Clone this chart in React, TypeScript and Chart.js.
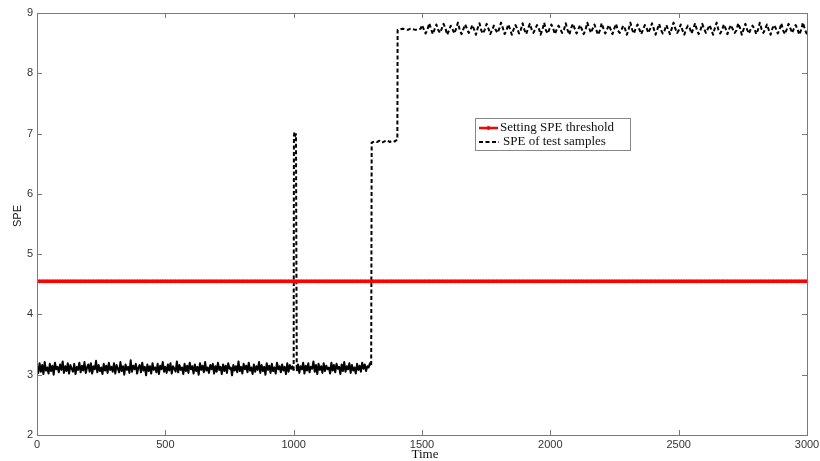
import React, { useEffect, useRef } from "react";
import { Chart, registerables } from "chart.js";

Chart.register(...registerables);

// ---- data ----
const xTicks = [0, 500, 1000, 1500, 2000, 2500, 3000];
const yTicks = [2, 3, 4, 5, 6, 7, 8, 9];

const SPE_THRESHOLD = 4.55;
const thresholdStart = 0;
const thresholdStep = 10;
const thresholdCount = 301;

// normal operation, t = 0..1000 every 5 samples
const normalStart = 0;
const normalStep = 5;
const normalValues = [
  3.14, 3.03, 3.19, 3.05, 3.16, 3.01, 3.21, 3.07, 3.12, 3.02, 3.18, 3.06, 3.15, 3.0, 3.2, 3.09, 3.13, 3.04, 3.17, 3.08,
  3.22, 3.03, 3.14, 3.06, 3.19, 3.02, 3.16, 3.1, 3.05, 3.18, 3.01, 3.13, 3.08, 3.2, 3.04, 3.15, 3.07, 3.21, 3.03, 3.12,
  3.17, 3.05, 3.19, 3.02, 3.14, 3.09, 3.23, 3.04, 3.16, 3.06, 3.12, 3.01, 3.18, 3.07, 3.15, 3.03, 3.2, 3.08, 3.13, 3.05,
  3.19, 3.02, 3.16, 3.1, 3.04, 3.21, 3.06, 3.14, 3.0, 3.17, 3.08, 3.13, 3.03, 3.24, 3.05, 3.15, 3.09, 3.18, 3.02, 3.12,
  3.16, 3.04, 3.2, 3.07, 3.13, 2.99, 3.17, 3.06, 3.14, 3.02, 3.19, 3.08, 3.12, 3.04, 3.18, 3.01, 3.15, 3.09, 3.21, 3.05,
  3.13, 3.03, 3.17, 3.07, 3.19, 3.02, 3.14, 3.1, 3.05, 3.22, 3.04, 3.16, 3.08, 3.12, 3.01, 3.18, 3.06, 3.15, 3.03, 3.2,
  3.09, 3.14, 3.02, 3.17, 3.06, 3.13, 3.0, 3.19, 3.08, 3.15, 3.04, 3.21, 3.07, 3.12, 3.03, 3.16, 3.09, 3.18, 3.02, 3.14,
  3.05, 3.2, 3.08, 3.13, 3.01, 3.17, 3.06, 3.15, 3.03, 3.19, 3.1, 3.12, 2.99, 3.16, 3.07, 3.14, 3.04, 3.22, 3.06, 3.13,
  3.02, 3.18, 3.09, 3.15, 3.04, 3.2, 3.07, 3.12, 3.01, 3.17, 3.05, 3.14, 3.08, 3.21, 3.03, 3.16, 3.06, 3.13, 3.0, 3.19,
  3.08, 3.15, 3.03, 3.18, 3.06, 3.12, 3.02, 3.2, 3.09, 3.14, 3.04, 3.17, 3.07, 3.13, 3.01, 3.19, 3.05, 3.16, 3.1, 3.14,
  3.07,
];

// short spike around t = 1000
const spikeTimes = [1001, 1003, 1006, 1009];
const spikeValues = [6.97, 7.02, 6.96, 6.99];

// back to normal, t = 1012..1302 every 5 samples
const normal2Start = 1012;
const normal2Step = 5;
const normal2Values = [
  3.06, 3.17, 3.03, 3.14, 3.09, 3.2, 3.02, 3.15, 3.07, 3.19,
  3.04, 3.13, 3.1, 3.22, 3.05, 3.16, 3.01, 3.18, 3.08, 3.14,
  3.03, 3.19, 3.06, 3.15, 3.09, 3.12, 3.02, 3.2, 3.07, 3.16,
  3.04, 3.18, 3.1, 3.13, 3.01, 3.17, 3.06, 3.21, 3.05, 3.14,
  3.09, 3.19, 3.03, 3.16, 3.07, 3.12, 3.02, 3.18, 3.08, 3.15,
  3.05, 3.2, 3.1, 3.17, 3.06, 3.14, 3.12, 3.19, 3.16,
];

// first fault level, t = 1304..1404
const fault1Start = 1304;
const fault1Step = 10;
const fault1Values = [6.85, 6.87, 6.86, 6.88, 6.85, 6.87, 6.89, 6.86, 6.88, 6.87, 6.9];

// second fault level, t = 1405..1495
const fault2Start = 1405;
const fault2Step = 10;
const fault2Values = [8.72, 8.73, 8.74, 8.73, 8.72, 8.74, 8.73, 8.72, 8.73, 8.74];

// oscillating fault, t = 1500.. every 7 samples
const oscStart = 1500;
const oscStep = 7;
const oscValues = [
  8.8, 8.73, 8.66, 8.72, 8.83, 8.74, 8.65, 8.73, 8.81, 8.72, 8.67, 8.74, 8.82, 8.75, 8.64, 8.71,
  8.79, 8.73, 8.66, 8.74, 8.84, 8.72, 8.65, 8.73, 8.81, 8.74, 8.67, 8.72, 8.8, 8.73, 8.64, 8.75,
  8.83, 8.71, 8.66, 8.73, 8.82, 8.74, 8.65, 8.72, 8.79, 8.72, 8.67, 8.74, 8.84, 8.75, 8.65, 8.71,
  8.81, 8.73, 8.64, 8.73, 8.8, 8.74, 8.66, 8.72, 8.83, 8.72, 8.65, 8.74, 8.82, 8.73, 8.67, 8.73,
  8.8, 8.75, 8.64, 8.72, 8.84, 8.71, 8.66, 8.74, 8.81, 8.74, 8.65, 8.73, 8.79, 8.73, 8.67, 8.72,
  8.83, 8.72, 8.64, 8.75, 8.82, 8.74, 8.66, 8.73, 8.8, 8.73, 8.65, 8.72, 8.84, 8.75, 8.67, 8.74,
  8.81, 8.72, 8.64, 8.71, 8.83, 8.74, 8.66, 8.73, 8.8, 8.73, 8.65, 8.74, 8.82, 8.71, 8.67, 8.72,
  8.79, 8.74, 8.64, 8.73, 8.84, 8.72, 8.66, 8.75, 8.81, 8.73, 8.65, 8.72, 8.8, 8.75, 8.67, 8.74,
  8.83, 8.74, 8.64, 8.73, 8.82, 8.72, 8.66, 8.71, 8.8, 8.73, 8.65, 8.74, 8.84, 8.74, 8.67, 8.72,
  8.81, 8.71, 8.64, 8.73, 8.79, 8.75, 8.66, 8.74, 8.83, 8.72, 8.65, 8.72, 8.82, 8.74, 8.67, 8.73,
  8.8, 8.73, 8.64, 8.75, 8.84, 8.72, 8.66, 8.72, 8.81, 8.74, 8.65, 8.74, 8.8, 8.73, 8.67, 8.71,
  8.83, 8.75, 8.64, 8.73, 8.82, 8.72, 8.66, 8.74, 8.79, 8.74, 8.65, 8.72, 8.84, 8.73, 8.67, 8.73,
  8.81, 8.72, 8.64, 8.74, 8.8, 8.74, 8.66, 8.72, 8.83, 8.71, 8.65, 8.73, 8.82, 8.75, 8.67, 8.74,
  8.8, 8.73, 8.64, 8.72, 8.84, 8.74, 8.66, 8.73,
];

const legendLabels = ["Setting SPE threshold", "SPE of test samples"];
const xTitle = "Time";
const yTitle = "SPE";

// ---- helpers ----
type Pt = { x: number; y: number };
function segment(start: number, step: number, values: number[]): Pt[] {
  return values.map((v, i) => ({ x: start + i * step, y: v }));
}

function buildSpe(): Pt[] {
  return [
    ...segment(normalStart, normalStep, normalValues),
    ...spikeTimes.map((t, i) => ({ x: t, y: spikeValues[i] })),
    ...segment(normal2Start, normal2Step, normal2Values),
    ...segment(fault1Start, fault1Step, fault1Values),
    ...segment(fault2Start, fault2Step, fault2Values),
    ...segment(oscStart, oscStep, oscValues),
  ];
}

function buildThreshold(): Pt[] {
  const pts: Pt[] = [];
  for (let i = 0; i < thresholdCount; i++) {
    pts.push({ x: thresholdStart + i * thresholdStep, y: SPE_THRESHOLD });
  }
  return pts;
}

const decorPlugin = {
  id: "matlabDecor",
  afterDraw(chart: any) {
    const { ctx, chartArea } = chart;
    const xs = chart.scales.x;
    const ys = chart.scales.y;
    const { left, right, top, bottom } = chartArea;
    ctx.save();
    // box
    ctx.strokeStyle = "#7a7a7a";
    ctx.lineWidth = 1;
    ctx.strokeRect(Math.round(left) + 0.5, Math.round(top) + 0.5, Math.round(right - left), Math.round(bottom - top));
    // inward ticks
    const tl = 5;
    ctx.beginPath();
    xTicks.forEach((v) => {
      if (v === xTicks[0] || v === xTicks[xTicks.length - 1]) return;
      const px = Math.round(xs.getPixelForValue(v)) + 0.5;
      ctx.moveTo(px, bottom);
      ctx.lineTo(px, bottom - tl);
      ctx.moveTo(px, top);
      ctx.lineTo(px, top + tl);
    });
    yTicks.forEach((v) => {
      if (v === yTicks[0] || v === yTicks[yTicks.length - 1]) return;
      const py = Math.round(ys.getPixelForValue(v)) + 0.5;
      ctx.moveTo(left, py);
      ctx.lineTo(left + tl, py);
      ctx.moveTo(right, py);
      ctx.lineTo(right - tl, py);
    });
    ctx.stroke();

    // axis titles
    ctx.fillStyle = "#111";
    ctx.font = '13px "Liberation Serif", serif';
    ctx.textAlign = "center";
    ctx.textBaseline = "middle";
    ctx.fillText(xTitle, (left + right) / 2 + 3, 455);
    ctx.save();
    ctx.translate(18, (top + bottom) / 2 - 8);
    ctx.rotate(-Math.PI / 2);
    ctx.font = '11px "Liberation Sans", Arial, sans-serif';
    ctx.fillText(yTitle, 0, 0);
    ctx.restore();

    // legend
    const bx = 475, by = 118, bw = 155, bh = 32;
    ctx.fillStyle = "#fff";
    ctx.fillRect(bx, by, bw, bh);
    ctx.strokeStyle = "#888";
    ctx.lineWidth = 1;
    ctx.strokeRect(bx + 0.5, by + 0.5, bw, bh);
    // red entry
    const r1 = by + 10;
    ctx.strokeStyle = "#ff0000";
    ctx.lineWidth = 2.5;
    ctx.beginPath();
    ctx.moveTo(479, r1);
    ctx.lineTo(498, r1);
    ctx.stroke();
    ctx.fillStyle = "#ff0000";
    ctx.beginPath();
    ctx.arc(488.5, r1, 2, 0, Math.PI * 2);
    ctx.fill();
    // black entry
    const r2 = by + 24;
    ctx.strokeStyle = "#000";
    ctx.lineWidth = 2;
    ctx.setLineDash([4, 2.5]);
    ctx.beginPath();
    ctx.moveTo(479, r2);
    ctx.lineTo(499, r2);
    ctx.stroke();
    ctx.setLineDash([]);
    ctx.fillStyle = "#111";
    ctx.font = '13px "Liberation Serif", serif';
    ctx.textAlign = "left";
    ctx.textBaseline = "middle";
    ctx.fillText(legendLabels[0], 500, r1);
    ctx.fillText(legendLabels[1], 503, r2);
    ctx.restore();
  },
};

export default function App() {
  const ref = useRef<HTMLCanvasElement | null>(null);
  useEffect(() => {
    document.body.style.margin = "0";
    if (!ref.current) return;
    const chart = new Chart(ref.current, {
      type: "line",
      data: {
        datasets: [
          {
            label: legendLabels[0],
            data: buildThreshold(),
            borderColor: "#ff0000",
            backgroundColor: "#ff0000",
            borderWidth: 2.5,
            pointRadius: 2,
            pointBorderWidth: 0,
            pointBackgroundColor: "#ff0000",
            pointHoverRadius: 0,
            order: 0,
          },
          {
            label: legendLabels[1],
            data: buildSpe(),
            borderColor: "#000",
            borderWidth: 2,
            borderDash: [4, 2.5],
            borderJoinStyle: "round",
            pointRadius: 0,
            tension: 0,
            order: 1,
            segment: {
              borderDash: (c: any) => (c.p0.parsed.y < 4 && c.p1.parsed.y < 4 ? [] : undefined),
            },
          } as any,
        ],
      },
      options: {
        responsive: false,
        animation: false,
        parsing: false as any,
        normalized: true,
        events: [],
        layout: { padding: { top: 13, right: 13, left: 0, bottom: 0 } },
        plugins: { legend: { display: false }, tooltip: { enabled: false } },
        scales: {
          x: {
            type: "linear",
            min: 0,
            max: 3000,
            border: { display: false },
            grid: { display: false, drawTicks: false },
            ticks: {
              stepSize: 500,
              padding: 3,
              maxRotation: 0,
              autoSkip: false,
              color: "#333",
              font: { family: '"Liberation Sans", Arial, sans-serif', size: 11 },
              callback: (v: any) => String(v),
            },
            afterFit: (s: any) => {
              s.height = 26;
              s.paddingLeft = 0;
              s.paddingRight = 0;
            },
          },
          y: {
            type: "linear",
            min: 2,
            max: 9,
            border: { display: false },
            grid: { display: false, drawTicks: false },
            ticks: {
              stepSize: 1,
              padding: 4,
              color: "#333",
              font: { family: '"Liberation Sans", Arial, sans-serif', size: 11 },
              callback: (v: any) => String(v),
            },
            afterFit: (s: any) => {
              s.width = 37;
              s.paddingTop = 0;
              s.paddingBottom = 0;
            },
          },
        },
      },
      plugins: [decorPlugin],
    });
    return () => chart.destroy();
  }, []);
  return (
    <div style={{ position: "fixed", left: 0, top: 0, width: 820, height: 461, background: "#fff" }}>
      <canvas ref={ref} width={820} height={461} style={{ width: 820, height: 461 }} />
    </div>
  );
}
